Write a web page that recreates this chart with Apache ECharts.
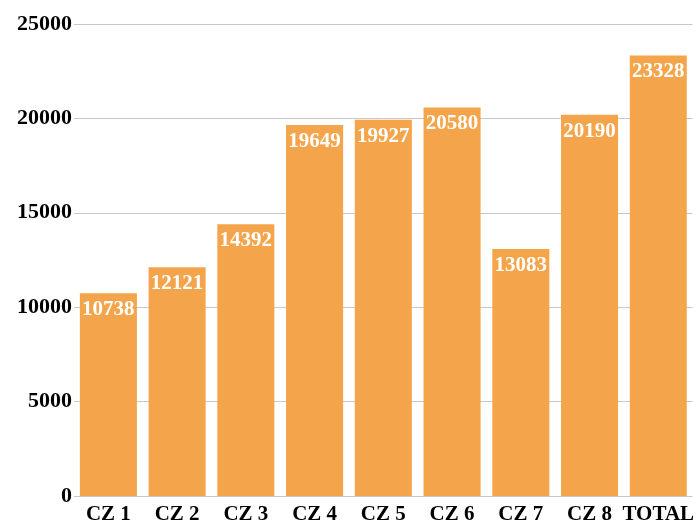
<!DOCTYPE html>
<html>
<head>
<meta charset="utf-8">
<script src="https://cdn.jsdelivr.net/npm/echarts@6/dist/echarts.min.js"></script>
<style>
  html, body { margin: 0; padding: 0; background: #ffffff; }
  #chart { width: 697px; height: 525px; }
</style>
</head>
<body>
<div id="chart"></div>
<script>
  // categories and values
  var categories = ['CZ 1', 'CZ 2', 'CZ 3', 'CZ 4', 'CZ 5', 'CZ 6', 'CZ 7', 'CZ 8', 'TOTAL'];
  var values = [10738, 12121, 14392, 19649, 19927, 20580, 13083, 20190, 23328];
  var yTicks = [0, 5000, 10000, 15000, 20000, 25000];

  var serif = '"Liberation Serif", "DejaVu Serif", serif';
  var myChart = echarts.init(document.getElementById('chart'));

  var option = {
    animation: false,
    grid: {
      left: 74,
      right: 3,
      top: 24,
      bottom: 28,
      containLabel: false
    },
    xAxis: {
      type: 'category',
      data: categories,
      axisLine: { show: false },
      axisTick: { show: false },
      axisLabel: {
        color: '#000',
        fontFamily: serif,
        fontWeight: 'bold',
        fontSize: 21,
        margin: 8,
        interval: 0
      }
    },
    yAxis: {
      type: 'value',
      min: yTicks[0],
      max: yTicks[yTicks.length - 1],
      interval: 5000,
      axisLine: { show: false },
      axisTick: { show: false },
      splitLine: { lineStyle: { color: '#c8c8c8', width: 1 } },
      axisLabel: {
        color: '#000',
        fontFamily: serif,
        fontWeight: 'bold',
        fontSize: 22,
        margin: 2,
        formatter: function (v) { return String(v); }
      }
    },
    series: [
      {
        type: 'bar',
        data: values,
        barWidth: '83%',
        itemStyle: { color: '#f4a54b' },
        label: {
          show: true,
          position: 'insideTop',
          distance: 6,
          color: '#fff',
          fontFamily: serif,
          fontWeight: 'bold',
          fontSize: 21
        }
      }
    ]
  };

  myChart.setOption(option);
</script>
</body>
</html>
